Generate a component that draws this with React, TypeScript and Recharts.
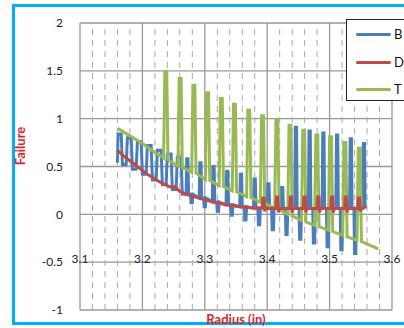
import React from "react";
import { LineChart, Line, XAxis, YAxis, CartesianGrid, ReferenceLine, Legend, Label } from "recharts";

// values
const xTicks = [3.1, 3.2, 3.3, 3.4, 3.5, 3.6];
const yTicks = [-1, -0.5, 0, 0.5, 1, 1.5, 2];
const minorX = [
  3.12, 3.14, 3.16, 3.18, 3.22, 3.24, 3.26, 3.28, 3.32, 3.34,
  3.36, 3.38, 3.42, 3.44, 3.46, 3.48, 3.52, 3.54, 3.56, 3.58,
];
const seriesNames = ["B", "D", "T"];

const bRadius = [
  3.160, 3.161, 3.166, 3.168, 3.174,
  3.176, 3.182, 3.184, 3.190, 3.192, 3.198, 3.200, 3.206,
  3.208, 3.214, 3.216, 3.222, 3.224, 3.230, 3.232, 3.238,
  3.240, 3.246, 3.248, 3.254, 3.256, 3.262, 3.264,
  3.270, 3.271, 3.273, 3.274, 3.277, 3.278, 3.280, 3.281,
  3.291, 3.292, 3.294, 3.295, 3.298, 3.299, 3.301, 3.302,
  3.312, 3.313, 3.315, 3.316, 3.319, 3.320, 3.322, 3.323,
  3.334, 3.335, 3.337, 3.338, 3.341, 3.342, 3.344, 3.345,
  3.356, 3.357, 3.359, 3.360, 3.363, 3.364, 3.366, 3.367,
  3.378, 3.379, 3.381, 3.382, 3.385, 3.386, 3.388, 3.389,
  3.400, 3.401, 3.403, 3.404, 3.407, 3.408, 3.410, 3.411,
  3.422, 3.423, 3.425, 3.426, 3.429, 3.430, 3.432, 3.433,
  3.444, 3.445, 3.447, 3.448, 3.451, 3.452, 3.454, 3.455,
  3.466, 3.467, 3.469, 3.470, 3.473, 3.474, 3.476, 3.477,
  3.488, 3.489, 3.491, 3.492, 3.495, 3.496, 3.498, 3.499,
  3.510, 3.511, 3.513, 3.514, 3.517, 3.518, 3.520, 3.521,
  3.532, 3.533, 3.535, 3.536, 3.539, 3.540, 3.542, 3.543,
  3.553, 3.554, 3.556, 3.557,
];
const bFailure = [
  0.54, 0.84, 0.84, 0.52, 0.52,
  0.80, 0.80, 0.47, 0.47, 0.76, 0.76, 0.42, 0.42,
  0.72, 0.72, 0.36, 0.36, 0.67, 0.67, 0.31, 0.31,
  0.63, 0.63, 0.26, 0.26, 0.60, 0.60, 0.21,
  0.21, 0.58, 0.58, 0.21, 0.21, 0.12, 0.12, 0.21,
  0.17, 0.54, 0.54, 0.17, 0.17, 0.08, 0.08, 0.17,
  0.13, 0.50, 0.50, 0.13, 0.13, 0.03, 0.03, 0.13,
  0.10, 0.45, 0.45, 0.10, 0.10, -0.01, -0.01, 0.10,
  0.08, 0.42, 0.42, 0.08, 0.08, -0.06, -0.06, 0.08,
  0.065, 0.37, 0.37, 0.065, 0.065, -0.11, -0.11, 0.065,
  0.06, 0.32, 0.32, 0.06, 0.06, -0.16, -0.16, 0.06,
  0.06, 0.28, 0.28, 0.06, 0.06, -0.21, -0.21, 0.06,
  0.06, 0.91, 0.91, 0.06, 0.06, -0.26, -0.26, 0.06,
  0.06, 0.87, 0.87, 0.06, 0.06, -0.30, -0.30, 0.06,
  0.06, 0.85, 0.85, 0.06, 0.06, -0.34, -0.34, 0.06,
  0.06, 0.83, 0.83, 0.06, 0.06, -0.37, -0.37, 0.06,
  0.06, 0.79, 0.79, 0.06, 0.06, -0.41, -0.41, 0.06,
  0.06, 0.74, 0.74, 0.06,
];

const dRadius = [
  3.160, 3.170, 3.180, 3.190, 3.200, 3.210, 3.220, 3.230, 3.240, 3.248,
  3.252, 3.260, 3.270, 3.291, 3.312, 3.334, 3.356, 3.378,
  3.392, 3.393, 3.395, 3.396, 3.397, 3.400,
  3.414, 3.415, 3.417, 3.418, 3.419,
  3.436, 3.437, 3.439, 3.440, 3.441,
  3.458, 3.459, 3.461, 3.462, 3.463,
  3.480, 3.481, 3.483, 3.484, 3.485,
  3.502, 3.503, 3.505, 3.506, 3.507,
  3.524, 3.525, 3.527, 3.528, 3.529,
  3.545, 3.546, 3.548, 3.549, 3.550, 3.558,
];
const dFailure = [
  0.67, 0.61, 0.56, 0.51, 0.46, 0.41, 0.37, 0.33, 0.30, 0.28,
  0.29, 0.24, 0.21, 0.17, 0.13, 0.10, 0.08, 0.065,
  0.065, 0.17, 0.17, 0.03, 0.06, 0.06,
  0.06, 0.18, 0.18, 0.02, 0.06,
  0.06, 0.18, 0.18, 0.02, 0.06,
  0.06, 0.18, 0.18, 0.02, 0.06,
  0.06, 0.18, 0.18, 0.02, 0.06,
  0.06, 0.18, 0.18, 0.02, 0.06,
  0.06, 0.18, 0.18, 0.02, 0.06,
  0.06, 0.17, 0.17, 0.03, 0.06, 0.08,
];

const tRadius = [
  3.160, 3.180, 3.200, 3.220,
  3.234, 3.236, 3.239, 3.241, 3.257, 3.259, 3.262, 3.264,
  3.279, 3.281, 3.284, 3.286, 3.301, 3.303, 3.306, 3.308,
  3.323, 3.325, 3.328, 3.330, 3.344, 3.346, 3.349, 3.351,
  3.367, 3.369, 3.372, 3.374, 3.389, 3.391, 3.394, 3.396,
  3.412, 3.414, 3.417, 3.419, 3.433, 3.435, 3.438, 3.440,
  3.455, 3.457, 3.460, 3.462, 3.476, 3.478, 3.481, 3.483,
  3.498, 3.500, 3.503, 3.505, 3.521, 3.523, 3.526, 3.528,
  3.544, 3.546, 3.549, 3.551, 3.578,
];
const tFailure = [
  0.90, 0.82, 0.74, 0.65,
  0.59, 1.49, 1.49, 0.57, 0.505, 1.42, 1.42, 0.49,
  0.44, 1.35, 1.35, 0.43, 0.365, 1.27, 1.27, 0.355,
  0.30, 1.21, 1.21, 0.29, 0.245, 1.15, 1.15, 0.235,
  0.185, 1.09, 1.09, 0.175, 0.125, 1.03, 1.03, 0.115,
  0.065, 0.99, 0.99, 0.05, 0.0, 0.93, 0.93, -0.015,
  -0.065, 0.88, 0.88, -0.08, -0.115, 0.83, 0.83, -0.13,
  -0.165, 0.81, 0.81, -0.18, -0.22, 0.75, 0.75, -0.235,
  -0.27, 0.69, 0.69, -0.285, -0.36,
];

const colors: Record<string, string> = { B: "#4A7EBB", D: "#BE4B48", T: "#98B954" };
const font = "Lato, 'Open Sans', sans-serif";
const red = "#D9262B";

const toPoints = (xs: number[], ys: number[]) => xs.map((x, i) => ({ x, y: ys[i] }));
const bData = toPoints(bRadius, bFailure);
const dData = toPoints(dRadius, dFailure);
const tData = toPoints(tRadius, tFailure);

const XTick = (p: any) => (
  <text x={p.x} y={p.y - 49} textAnchor="middle" fontSize={12} fill="#222" fontFamily={font}>
    {Number(p.payload.value).toFixed(1)}
  </text>
);

const LegendBox = () => (
  <div
    style={{
      width: 70,
      height: 82,
      border: "1.5px solid #222",
      background: "#fff",
      boxSizing: "border-box",
      position: "relative",
      fontFamily: font,
      fontSize: 13,
      color: "#111",
    }}
  >
    {seriesNames.map((n, i) => (
      <div key={n} style={{ position: "absolute", left: 9, top: 6 + [0, 28, 55][i], display: "flex", alignItems: "center" }}>
        <div style={{ width: 35, height: 3, background: colors[n], borderRadius: 2 }} />
        <span style={{ marginLeft: 3, lineHeight: "16px" }}>{n}</span>
      </div>
    ))}
  </div>
);

export default function App() {
  return (
    <div style={{ position: "absolute", left: 0, top: 0, width: 404, height: 328, overflow: "hidden", background: "#fff" }}>
      <div
        style={{
          position: "absolute",
          left: 12,
          top: 4,
          width: 410,
          height: 321,
          border: "3px solid #00B0F0",
          boxSizing: "border-box",
        }}
      />
      <div style={{ position: "absolute", left: 0, top: 0 }}>
        <LineChart width={404} height={328} margin={{ top: 23, right: 12, bottom: 0, left: 20 }}>
          <CartesianGrid stroke="#999" strokeWidth={1.3} />
          {minorX.map((v) => (
            <ReferenceLine key={v} x={v} stroke="#aaa" strokeDasharray="6 5" />
          ))}
          <XAxis
            type="number"
            dataKey="x"
            domain={[3.1, 3.6]}
            ticks={xTicks}
            allowDataOverflow
            axisLine={false}
            tickLine={false}
            tickSize={0}
            height={18}
            tick={<XTick />}
          >
            <Label
              content={(props: any) => {
                const vb = props.viewBox;
                return (
                  <text x={vb.x + vb.width / 2} y={vb.y + 14} textAnchor="middle" fill={red} fontSize={13} fontWeight="bold" fontFamily={font}>
                    Radius (in)
                  </text>
                );
              }}
            />
          </XAxis>
          <YAxis
            type="number"
            domain={[-1, 2]}
            ticks={yTicks}
            width={60}
            axisLine={false}
            tickLine={false}
            tickSize={0}
            tickMargin={17}
            tick={{ fontSize: 12, fill: "#222", fontFamily: font }}
          >
            <Label
              content={() => (
                <text x={25} y={146} transform="rotate(-90 25 146)" textAnchor="middle" fill={red} fontSize={13} fontWeight="bold" fontFamily={font}>
                  Failure
                </text>
              )}
            />
          </YAxis>
          <Line data={bData} dataKey="y" name="B" type="linear" stroke={colors.B} strokeWidth={3} dot={false} isAnimationActive={false} />
          <Line data={tData} dataKey="y" name="T" type="linear" stroke={colors.T} strokeWidth={3} dot={false} isAnimationActive={false} />
          <Line data={dData} dataKey="y" name="D" type="linear" stroke={colors.D} strokeWidth={3} dot={false} isAnimationActive={false} />
          <Legend
            layout="horizontal"
            verticalAlign="middle"
            align="center"
            wrapperStyle={{ position: "absolute", left: 346, top: 19, width: 70, height: 82 }}
            content={() => <LegendBox />}
          />
        </LineChart>
      </div>
    </div>
  );
}
